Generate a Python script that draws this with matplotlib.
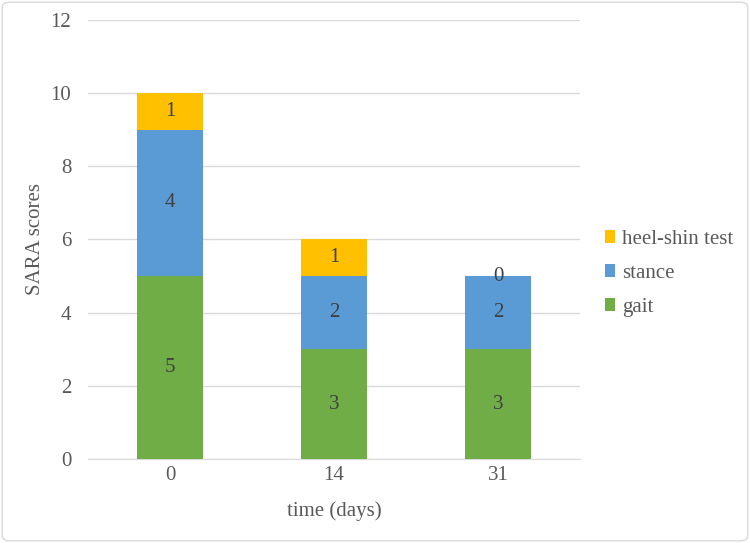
import matplotlib.pyplot as plt
from matplotlib.patches import FancyBboxPatch

# Datos del gráfico
days = ['0', '14', '31']
gait = [5, 3, 3]
stance = [4, 2, 2]
heel_shin = [1, 1, 0]

plt.rcParams['font.family'] = ['Liberation Serif', 'DejaVu Serif']
text_color = '#595959'
fs = 15

fig = plt.figure(figsize=(7.5, 5.43), dpi=100)
ax = fig.add_axes([0.1173, 0.1547, 0.656, 0.8085])

x = range(len(days))
w = 0.4
b1 = ax.bar(x, gait, w, color='#70AD47', label='gait', zorder=3)
b2 = ax.bar(x, stance, w, bottom=gait, color='#5B9BD5', label='stance', zorder=3)
bottom2 = [g + s for g, s in zip(gait, stance)]
b3 = ax.bar(x, heel_shin, w, bottom=bottom2, color='#FFC000', label='heel-shin test', zorder=3)

for bars in (b1, b2, b3):
    ax.bar_label(bars, label_type='center', fontsize=fs, color='#404040')

ax.set_xlim(-0.5, 2.5)
ax.set_ylim(0, 12)
ax.set_yticks(range(0, 13, 2))
ax.set_xticks(list(x))
ax.set_xticklabels(days)
ax.grid(axis='y', color='#D9D9D9', linewidth=1, zorder=0)
for s in ['top', 'right', 'left']:
    ax.spines[s].set_visible(False)
ax.spines['bottom'].set_color('#D9D9D9')
ax.tick_params(length=0, labelsize=fs, labelcolor=text_color)
ax.tick_params(axis='y', pad=12)
ax.tick_params(axis='x', pad=5)
ax.set_xlabel('time (days)', fontsize=fs, color=text_color, labelpad=12)
ax.set_ylabel('SARA scores', fontsize=fs, color=text_color, labelpad=4)

handles = [b3, b2, b1]
fig.legend(handles, [h.get_label() for h in handles], loc='center left',
           bbox_to_anchor=(0.806, 0.497), frameon=False, fontsize=fs,
           labelcolor=text_color, handlelength=0.5, handleheight=0.55,
           handletextpad=0.35, labelspacing=0.72, borderpad=0, borderaxespad=0)

# Marco exterior
fig.patches.append(FancyBboxPatch((0.003, 0.004), 0.994, 0.992,
                                  boxstyle='round,pad=0,rounding_size=0.01',
                                  transform=fig.transFigure, fill=False,
                                  edgecolor='#D9D9D9', linewidth=1))

plt.savefig('out.png')
